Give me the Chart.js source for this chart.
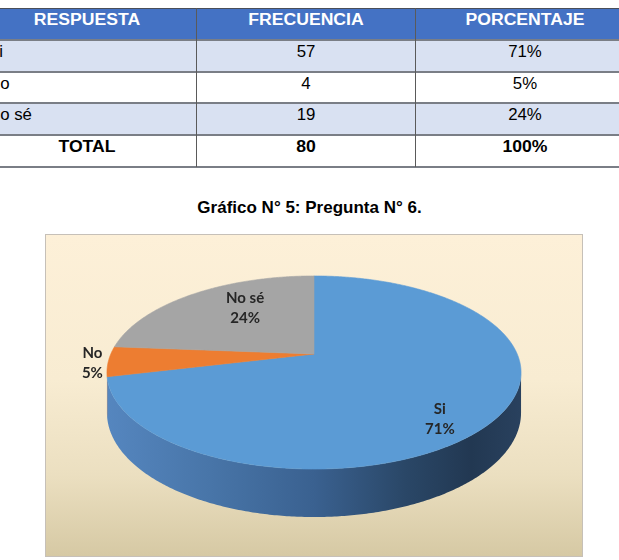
<!DOCTYPE html>
<html>
<head>
<meta charset="utf-8">
<script src="https://cdn.jsdelivr.net/npm/chart.js@4.4.1/dist/chart.umd.min.js"></script>
<style>
  html, body { margin: 0; padding: 0; }
  body { width: 619px; height: 560px; overflow: hidden; background: #ffffff; position: relative; font-family: "Liberation Sans", Arial, sans-serif; }
  .cell { position: absolute; box-sizing: border-box; }
  .txt { position: absolute; white-space: nowrap; transform-origin: 50% 50%; }
  #title { position: absolute; left: 0; width: 619px; top: 198px; text-align: center; font: bold 17px "Liberation Sans", Arial, sans-serif; color: #000; line-height: 20px; }
  #box { position: absolute; left: 45px; top: 234px; width: 536px; height: 321px; border: 1px solid #c6c0b8;
         background: linear-gradient(to bottom, #fdf0d8 0%, #f8ecd2 45%, #ebdfc0 75%, #d6c9a4 100%); }
  #c { display: block; }
</style>
</head>
<body>
<div id="table"></div>
<div id="title">Gráfico N° 5: Pregunta N° 6.</div>
<div id="box"><canvas id="c" width="536" height="321"></canvas></div>
<script>
// ---- data ----
const headers = ['RESPUESTA', 'FRECUENCIA', 'PORCENTAJE'];
const categories = ['Si', 'No', 'No sé'];
const frequencies = [57, 4, 19];
const percentages = ['71%', '5%', '24%'];
const totalLabel = 'TOTAL';
const totalFrequency = '80';
const totalPercentage = '100%';

// ---- table (built from the arrays) ----
(function buildTable() {
  const t = document.getElementById('table');
  const colX = [-22, 196, 415, 635];
  const rowY = [8, 40, 72, 103, 135, 167];
  const fills = ['#4472c4', '#d9e1f2', '#ffffff', '#d9e1f2', '#ffffff'];
  const rows = [headers];
  categories.forEach((c, i) => rows.push([c, String(frequencies[i]), percentages[i]]));
  rows.push([totalLabel, totalFrequency, totalPercentage]);
  rows.forEach((r, ri) => {
    const bg = document.createElement('div');
    bg.className = 'cell';
    bg.style.cssText = `left:0;top:${rowY[ri]}px;width:619px;height:${rowY[ri+1]-rowY[ri]}px;background:${fills[ri]};`;
    t.appendChild(bg);
    r.forEach((txt, ci) => {
      const d = document.createElement('div');
      d.className = 'txt';
      const isHead = ri === 0, isTot = ri === rows.length - 1;
      const bold = isHead || isTot;
      const fs = 16;
      const sx = bold ? 1.1 : 1.05;
      const cy = rowY[ri] + (rowY[ri+1] - rowY[ri]) / 2 - 4;
      let style = `top:${cy - 10}px;line-height:20px;font-size:${fs}px;font-weight:${bold?'bold':'normal'};color:${isHead?'#ffffff':'#000000'};`;
      if (ci === 0 && !isHead && !isTot) {
        style += `left:-12.5px;transform-origin:0 50%;transform:scaleX(${sx});`;
      } else {
        const c = ci === 0 ? 87 : (colX[ci] + colX[ci+1]) / 2;
        style += `left:${c - 100}px;width:200px;text-align:center;transform:scaleX(${sx});`;
      }
      d.style.cssText = style;
      d.textContent = txt;
      t.appendChild(d);
    });
  });
  // horizontal lines
  rowY.forEach((y, i) => {
    const l = document.createElement('div');
    l.className = 'cell';
    l.style.cssText = `left:0;top:${y - (i===0?0:1)}px;width:619px;height:${i===0?1:2}px;background:${i===0?'#4a4f5a':'#7a7e86'};`;
    t.appendChild(l);
  });
  // vertical lines
  [196, 415].forEach(x => {
    const l = document.createElement('div');
    l.className = 'cell';
    l.style.cssText = `left:${x}px;top:8px;width:1px;height:159px;background:#5a5a5a;`;
    t.appendChild(l);
  });
})();

// ---- 3D pie plugin ----
const P = 0.1917;           // perspective factor
const RX = 1.7076;          // horizontal radius relative to outerRadius
const RY = 0.7815;          // vertical radius relative to outerRadius
const DEPTH = 0.326;        // side depth relative to outerRadius

const pie3d = {
  id: 'pie3d',
  beforeDatasetDraw() { return false; },
  afterDatasetsDraw(chart, args, opts) {
    const ctx = chart.ctx;
    const meta = chart.getDatasetMeta(0);
    const arcs = meta.data;
    if (!arcs.length) return;
    const cx = arcs[0].x, cy = arcs[0].y, R = arcs[0].outerRadius;
    const proj = (t, r, z) => {
      const u = r * Math.cos(t), v = r * Math.sin(t);
      const s = 1 / (1 - P * v);
      return [cx + RX * R * u * s, cy + (RY * R * v + DEPTH * R * z) * s];
    };
    const th1 = Math.asin(P), th2 = Math.PI - Math.asin(P);
    const ext = RX * R / Math.sqrt(1 - P * P);
    ctx.save();
    // sides
    arcs.forEach((el, i) => {
      const a0 = Math.max(el.startAngle, th1), a1 = Math.min(el.endAngle, th2);
      if (a1 <= a0) return;
      const n = Math.max(2, Math.ceil((a1 - a0) / 0.01));
      ctx.beginPath();
      for (let k = 0; k <= n; k++) {
        const p = proj(a0 + (a1 - a0) * k / n, 1, 0);
        k === 0 ? ctx.moveTo(p[0], p[1]) : ctx.lineTo(p[0], p[1]);
      }
      for (let k = n; k >= 0; k--) {
        const p = proj(a0 + (a1 - a0) * k / n, 1, 1);
        ctx.lineTo(p[0], p[1]);
      }
      ctx.closePath();
      const stops = opts.sideStops[i];
      const g = ctx.createLinearGradient(cx - ext, 0, cx + ext, 0);
      stops.forEach(([o, c]) => g.addColorStop(o, c));
      ctx.fillStyle = g;
      ctx.fill();
    });
    // top faces
    arcs.forEach((el) => {
      const a0 = el.startAngle, a1 = el.endAngle;
      const n = Math.max(2, Math.ceil((a1 - a0) / 0.01));
      ctx.beginPath();
      const c0 = proj(0, 0, 0);
      ctx.moveTo(c0[0], c0[1]);
      for (let k = 0; k <= n; k++) {
        const p = proj(a0 + (a1 - a0) * k / n, 1, 0);
        ctx.lineTo(p[0], p[1]);
      }
      ctx.closePath();
      ctx.fillStyle = el.options.backgroundColor;
      ctx.fill();
      ctx.strokeStyle = el.options.backgroundColor;
      ctx.lineWidth = 0.6;
      ctx.stroke();
    });
    // labels
    const total = chart.data.datasets[0].data.reduce((a, b) => a + b, 0);
    ctx.font = opts.font;
    ctx.fillStyle = opts.color;
    ctx.textAlign = 'center';
    ctx.textBaseline = 'middle';
    arcs.forEach((el, i) => {
      const mid = (el.startAngle + el.endAngle) / 2;
      const p = proj(mid, opts.labelRadius[i], 0);
      const x = p[0] + opts.labelOffset[i][0];
      const y = p[1] + opts.labelOffset[i][1];
      const v = chart.data.datasets[0].data[i];
      ctx.fillText(chart.data.labels[i], x, y - 10);
      ctx.fillText(Math.round(v / total * 100) + '%', x, y + 10);
    });
    ctx.restore();
  }
};

new Chart(document.getElementById('c'), {
  type: 'pie',
  data: {
    labels: categories,
    datasets: [{
      data: frequencies,
      backgroundColor: ['#5b9bd5', '#ed7d31', '#a5a5a5'],
      borderWidth: 0
    }]
  },
  options: {
    responsive: false,
    animation: false,
    devicePixelRatio: 1,
    events: [],
    layout: { padding: { top: 0, bottom: 83, left: 0, right: 0 } },
    plugins: {
      legend: { display: false },
      tooltip: { enabled: false },
      pie3d: {
        font: 'bold 15px Lato, "Open Sans", sans-serif',
        color: '#262626',
        labelRadius: [0.7, 1.1, 0.7],
        labelOffset: [[4, 21], [5, 1], [19, -2]],
        sideStops: [
          [[0, '#5586bf'], [0.25, '#4875a8'], [0.5, '#3a6190'], [0.72, '#2a4767'], [0.88, '#223852'], [1, '#29415e']],
          [[0, '#b85f22'], [1, '#a8561f']],
          [[0, '#7c7c7c'], [1, '#6e6e6e']]
        ]
      }
    }
  },
  plugins: [pie3d]
});
</script>
</body>
</html>
